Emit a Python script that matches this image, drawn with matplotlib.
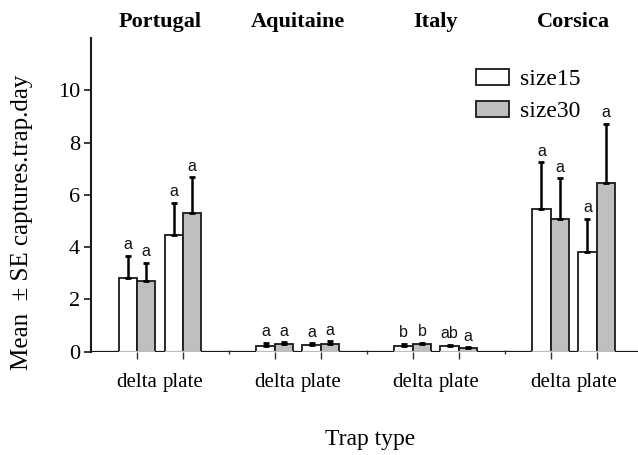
import matplotlib
matplotlib.use("Agg")
import matplotlib.pyplot as plt
import matplotlib.transforms as mtransforms
import numpy as np

# ---- data ----
regions = ["Portugal", "Aquitaine", "Italy", "Corsica"]
trap_types = ["delta", "plate"]
series_names = ["size15", "size30"]
# order: Portugal delta, plate, Aquitaine delta, plate, Italy delta, plate, Corsica delta, plate
size15_mean = [2.83, 4.47, 0.22, 0.26, 0.23, 0.21, 5.47, 3.83]
size15_se = [0.84, 1.22, 0.13, 0.06, 0.08, 0.06, 1.77, 1.25]
size30_mean = [2.72, 5.30, 0.31, 0.31, 0.28, 0.13, 5.07, 6.45]
size30_se = [0.69, 1.37, 0.06, 0.09, 0.07, 0.04, 1.57, 2.27]
size15_letters = ["a", "a", "a", "a", "b", "ab", "a", "a"]
size30_letters = ["a", "a", "a", "a", "b", "a", "a", "a"]
yticks = [0, 2, 4, 6, 8, 10]

serif = "Liberation Serif"
sans = "Liberation Sans"

fig = plt.figure(figsize=(6.38, 4.55), dpi=100)
ax = fig.add_axes([91 / 638, 103.3 / 455, 1 - 91 / 638, (351.7 - 38) / 455])

# positions: delta = 3g+1, plate = 3g+2
pos = []
for g in range(len(regions)):
    for t in range(len(trap_types)):
        pos.append(3 * g + 1 + t)
pos = np.array(pos, dtype=float)
w = 0.4
edge = "#1a1a1a"

# dark baseline across the whole axis
ax.axhline(0, color=edge, lw=1.6, zorder=1)

colors = ["white", "#bfbfbf"]
for k, (means, ses, letters) in enumerate([(size15_mean, size15_se, size15_letters),
                                             (size30_mean, size30_se, size30_letters)]):
    xs = pos + (k - 0.5) * w
    ax.bar(xs, means, width=w, color=colors[k], edgecolor=edge, linewidth=1.3,
           zorder=2, label=series_names[k])
    # light gray baseline under the bars
    for x in xs:
        ax.plot([x - w / 2, x + w / 2], [0, 0], color="#bdbdbd", lw=1.6, zorder=3,
                solid_capstyle="butt")
    ax.errorbar(xs, means, yerr=[np.zeros(len(ses)), ses], fmt="none", ecolor="black",
                elinewidth=1.8, capsize=2.3, capthick=2.0, zorder=4)
    for x, m, s, lab in zip(xs, means, ses, letters):
        ax.annotate(lab, (x, m + s), xytext=(0, 2.5), textcoords="offset points",
                    ha="center", va="bottom", fontsize=11.5, family=sans, color="#111111")

ax.set_xlim(0, 11.9)
ax.set_ylim(0, 12)

for s in ["top", "right", "bottom"]:
    ax.spines[s].set_visible(False)
ax.spines["left"].set_linewidth(1.5)
ax.spines["left"].set_color(edge)

ax.set_yticks(yticks)
ax.set_yticklabels([str(v) for v in yticks], family=serif, fontsize=16)
ax.tick_params(axis="y", length=5, width=1.2, color=edge, pad=3)

ax.set_xticks(pos)
ax.set_xticklabels(trap_types * len(regions), family=serif, fontsize=15)
ax.set_xticks([3 * g for g in range(1, len(regions))], minor=True)
ax.tick_params(axis="x", which="major", length=5, width=1.0, color="#333333", pad=10)
ax.tick_params(axis="x", which="minor", length=3, width=1.0, color="#333333", direction="inout")

# region titles
trans = mtransforms.blended_transform_factory(ax.transData, fig.transFigure)
for g, name in enumerate(regions):
    ax.text(3 * g + 1.5, 1 - 27 / 455, name, transform=trans, ha="center", va="baseline",
            family=serif, fontsize=16, fontweight="bold")

fig.text(22 / 638, 1 - 222 / 455, "Mean  \u00b1 SE captures.trap.day", rotation=90,
         ha="center", va="center", family=serif, fontsize=18)
fig.text(370 / 638, 1 - 440 / 455, "Trap type", ha="center", va="center",
         family=serif, fontsize=17)

leg = ax.legend(loc="upper left", bbox_to_anchor=(476 / 638, 1 - 69 / 455),
                bbox_transform=fig.transFigure, frameon=False,
                prop={"family": serif, "size": 17}, handlelength=1.4, handleheight=0.65,
                handletextpad=0.45, labelspacing=0.45, borderpad=0, borderaxespad=0)

fig.savefig("out.png", dpi=100)
